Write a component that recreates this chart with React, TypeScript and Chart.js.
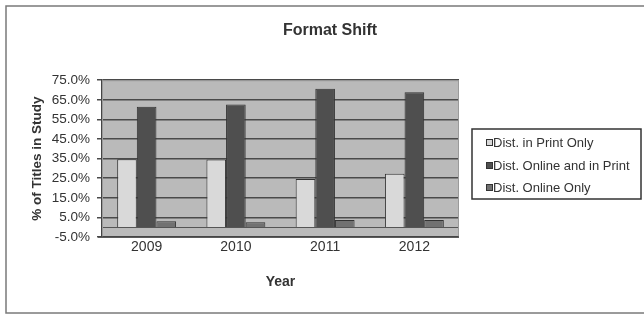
import React, { useEffect, useRef } from "react";
import { Chart, registerables } from "chart.js";

Chart.register(...registerables);

const years = ["2009", "2010", "2011", "2012"];
const printOnly = [34.7, 34.6, 24.6, 27.3];
const onlineAndPrint = [61.4, 62.6, 70.6, 68.9];
const onlineOnly = [3.0, 2.5, 3.7, 3.7];
const seriesLabels = ["Dist. in Print Only", "Dist. Online and in Print", "Dist. Online Only"];
const seriesColors = ["#d9d9d9", "#4f4f4f", "#717171"];
const yMin = -5;
const yMax = 75;
const yStep = 10;

const FONT = "'Liberation Sans', Arial, sans-serif";

const decorPlugin = {
  id: "decor",
  beforeDraw(chart: any) {
    const { ctx, chartArea } = chart;
    const { left, top, right, bottom } = chartArea;
    ctx.save();
    ctx.fillStyle = "#ffffff";
    ctx.fillRect(0, 0, chart.width, chart.height);
    ctx.strokeStyle = "#7a7a7a";
    ctx.lineWidth = 1.5;
    ctx.strokeRect(6, 6, chart.width + 20, 307);
    ctx.fillStyle = "#bababa";
    ctx.fillRect(left, top, right - left, bottom - top);
    ctx.restore();
  },
  afterDatasetsDraw(chart: any) {
    const { ctx, chartArea, scales } = chart;
    const { left, top, right, bottom } = chartArea;
    ctx.save();
    const y0 = scales.y.getPixelForValue(0);
    ctx.strokeStyle = "#555555";
    ctx.lineWidth = 1;
    ctx.beginPath();
    ctx.moveTo(left, Math.round(y0) + 0.5);
    ctx.lineTo(right, Math.round(y0) + 0.5);
    ctx.stroke();
    ctx.strokeStyle = "#9a9a9a";
    ctx.lineWidth = 1;
    ctx.strokeRect(left + 0.5, top + 0.5, right - left - 1, bottom - top);
    ctx.strokeStyle = "#444444";
    ctx.lineWidth = 1.5;
    ctx.beginPath();
    ctx.moveTo(left - 4, bottom);
    ctx.lineTo(right, bottom);
    ctx.stroke();
    ctx.restore();
  },
  afterDraw(chart: any) {
    const { ctx } = chart;
    const bx = 472;
    const by = 129;
    const bw = 169;
    const bh = 70;
    ctx.save();
    ctx.fillStyle = "#ffffff";
    ctx.fillRect(bx, by, bw, bh);
    ctx.strokeStyle = "#333333";
    ctx.lineWidth = 1.5;
    ctx.strokeRect(bx, by, bw, bh);
    const rows = [143, 166, 188];
    ctx.font = `13px ${FONT}`;
    ctx.textBaseline = "middle";
    chart.data.datasets.forEach((ds: any, i: number) => {
      const y = rows[i];
      ctx.fillStyle = ds.backgroundColor;
      ctx.fillRect(486, y - 3, 6, 6);
      ctx.strokeStyle = "#333333";
      ctx.lineWidth = 1;
      ctx.strokeRect(486.5, y - 3.5, 6, 6);
      ctx.fillStyle = "#333333";
      ctx.fillText(ds.label, 493, y);
    });
    ctx.restore();
  },
};

export default function App() {
  const ref = useRef<HTMLCanvasElement>(null);
  useEffect(() => {
    document.body.style.margin = "0";
    const chart = new Chart(ref.current!, {
      type: "bar",
      data: {
        labels: years,
        datasets: [
          { label: seriesLabels[0], data: printOnly, backgroundColor: seriesColors[0] },
          { label: seriesLabels[1], data: onlineAndPrint, backgroundColor: seriesColors[1] },
          { label: seriesLabels[2], data: onlineOnly, backgroundColor: seriesColors[2] },
        ].map((d) => ({
          ...d,
          borderColor: "#333333",
          borderWidth: 1,
          categoryPercentage: 0.66,
          barPercentage: 1,
          yAxisID: "y",
        })),
      },
      options: {
        animation: false,
        responsive: false,
        maintainAspectRatio: false,
        layout: { padding: { left: 16, right: 0, top: 0, bottom: 0 } },
        plugins: {
          legend: { display: false },
          tooltip: { enabled: false },
          title: {
            display: true,
            text: "Format Shift",
            color: "#333333",
            font: { family: FONT, size: 16, weight: "bold" },
            padding: { top: 21, bottom: 40 },
          },
        },
        scales: {
          x: {
            grid: { display: false, drawTicks: false },
            border: { display: false },
            ticks: { color: "#333333", font: { family: FONT, size: 14 }, padding: 2 },
            title: {
              display: true,
              text: "Year",
              color: "#333333",
              font: { family: FONT, size: 14, weight: "bold" },
              padding: { top: 0, bottom: 23 },
            },
            afterFit: (s: any) => {
              s.height = 77;
            },
          },
          y: {
            position: "left",
            min: yMin,
            max: yMax,
            ticks: {
              stepSize: yStep,
              color: "#333333",
              font: { family: FONT, size: 13.5 },
              padding: 7,
              callback: (v: any) => Number(v).toFixed(1) + "%",
            },
            grid: { color: "#4a4a4a", lineWidth: 1.5, tickLength: 5 },
            border: { display: true, color: "#444444", width: 1.5 },
            title: {
              display: true,
              text: "% of Titles in Study",
              color: "#333333",
              font: { family: FONT, size: 13.5, weight: "bold" },
              padding: { top: 13, bottom: 0 },
            },
            afterFit: (s: any) => {
              s.width = 86;
            },
          },
          yRight: {
            position: "right",
            display: true,
            grid: { display: false, drawTicks: false },
            border: { display: false },
            ticks: { display: false },
            afterFit: (s: any) => {
              s.width = 185;
            },
          },
        },
      },
      plugins: [decorPlugin],
    });
    return () => chart.destroy();
  }, []);
  return (
    <div style={{ width: 644, height: 314 }}>
      <canvas ref={ref} width={644} height={314} style={{ display: "block" }} />
    </div>
  );
}
